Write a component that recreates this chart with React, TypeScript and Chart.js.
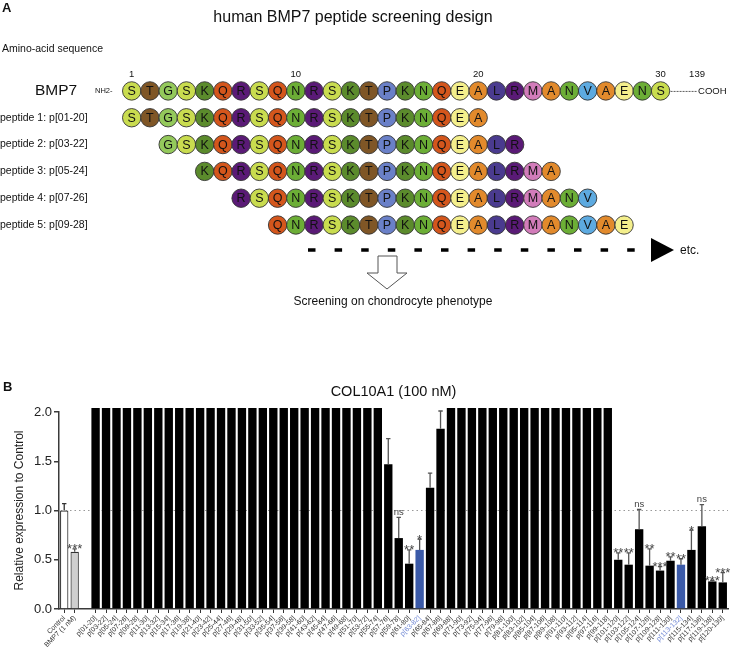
import React, { useEffect, useRef } from 'react';
import { Chart, registerables } from 'chart.js';

Chart.register(...registerables);

const FONT = '"Liberation Sans", Arial, Helvetica, sans-serif';

// ---------- Panel A data ----------
const TITLE_A = 'human BMP7 peptide screening design';
const SEQUENCE = ['S', 'T', 'G', 'S', 'K', 'Q', 'R', 'S', 'Q', 'N', 'R', 'S', 'K', 'T', 'P', 'K', 'N', 'Q', 'E', 'A', 'L', 'R', 'M', 'A', 'N', 'V', 'A', 'E', 'N', 'S'];
const POSITION_MARKS = [1, 10, 20, 30];
const FULL_LENGTH = 139;
const PEPTIDE_STARTS = [1, 3, 5, 7, 9];
const PEPTIDE_LENGTH = 20;
const PEPTIDE_LABELS = ['peptide 1: p[01-20]', 'peptide 2: p[03-22]', 'peptide 3: p[05-24]', 'peptide 4: p[07-26]', 'peptide 5: p[09-28]'];

const AA_COLORS: Record<string, string> = {
  S: '#c9dc4f', T: '#7f5626', G: '#94c95b', K: '#5b8b2c', Q: '#d4561c', R: '#5a1a76',
  N: '#6cae36', P: '#6a80c8', E: '#f4ef8c', A: '#e28a2c', L: '#4a3b8f', M: '#d27cba', V: '#5daae0',
};

// ---------- Panel B data ----------
const TITLE_B = 'COL10A1 (100 nM)';
const Y_TITLE = 'Relative expression to Control';
const CONTROL_LABELS = ['Control', 'BMP7 (1 nM)'];
const CONTROL_VALUES = [1.0, 0.58];
const CONTROL_ERRORS = [0.07, 0.03];
const CONTROL_SIGNIF = ['', '***'];

const PEPTIDE_NAMES = [
  'p[01-20]', 'p[03-22]', 'p[05-24]', 'p[07-26]', 'p[09-28]', 'p[11-30]', 'p[13-32]', 'p[15-34]', 'p[17-36]', 'p[19-38]',
  'p[21-40]', 'p[23-42]', 'p[25-44]', 'p[27-46]', 'p[29-48]', 'p[31-50]', 'p[33-52]', 'p[35-54]', 'p[37-56]', 'p[39-58]',
  'p[41-60]', 'p[43-62]', 'p[45-64]', 'p[47-66]', 'p[49-68]', 'p[51-70]', 'p[53-72]', 'p[55-74]', 'p[57-76]', 'p[59-78]',
  'p[61-80]', 'p[63-82]', 'p[65-84]', 'p[67-86]', 'p[69-88]', 'p[71-90]', 'p[73-92]', 'p[75-94]', 'p[77-96]', 'p[79-98]',
  'p[81-100]', 'p[83-102]', 'p[85-104]', 'p[87-106]', 'p[89-108]', 'p[91-110]', 'p[93-112]', 'p[95-114]', 'p[97-116]', 'p[99-118]',
  'p[101-120]', 'p[103-122]', 'p[105-124]', 'p[107-126]', 'p[109-128]', 'p[111-130]', 'p[113-132]', 'p[115-134]', 'p[117-136]', 'p[119-138]',
  'p[120-139]',
];
// values above 2.0 are off-scale (clipped at the top of the axis)
const PEPTIDE_VALUES = [
  2.5, 2.5, 2.5, 2.5, 2.5, 2.5, 2.5, 2.5, 2.5, 2.5,
  2.5, 2.5, 2.5, 2.5, 2.5, 2.5, 2.5, 2.5, 2.5, 2.5,
  2.5, 2.5, 2.5, 2.5, 2.5, 2.5, 2.5, 2.5, 1.47, 0.72,
  0.46, 0.60, 1.23, 1.83, 2.5, 2.5, 2.5, 2.5, 2.5, 2.5,
  2.5, 2.5, 2.5, 2.5, 2.5, 2.5, 2.5, 2.5, 2.5, 2.5,
  0.50, 0.45, 0.81, 0.44, 0.39, 0.49, 0.45, 0.60, 0.84, 0.28,
  0.27,
];
const PEPTIDE_ERRORS = [
  null, null, null, null, null, null, null, null, null, null,
  null, null, null, null, null, null, null, null, null, null,
  null, null, null, null, null, null, null, null, 0.26, 0.21,
  0.14, 0.11, 0.15, 0.18, null, null, null, null, null, null,
  null, null, null, null, null, null, null, null, null, null,
  0.07, 0.12, 0.20, 0.17, 0.04, 0.04, 0.06, 0.20, 0.22, 0.01,
  0.10,
];
const PEPTIDE_SIGNIF = [
  '', '', '', '', '', '', '', '', '', '',
  '', '', '', '', '', '', '', '', '', '',
  '', '', '', '', '', '', '', '', '', 'ns',
  '**', '*', '', '', '', '', '', '', '', '',
  '', '', '', '', '', '', '', '', '', '',
  '**', '**', 'ns', '**', '***', '**', '**', '*', 'ns', '***',
  '***',
];
const HIGHLIGHTED = ['p[63-82]', 'p[113-132]'];
const Y_TICKS = [0, 0.5, 1.0, 1.5, 2.0];
const REFERENCE_LEVEL = 1.0;

// combined (with an empty spacer category between controls and peptides)
const LABELS = [...CONTROL_LABELS, '', ...PEPTIDE_NAMES];
const VALUES: (number | null)[] = [...CONTROL_VALUES, null, ...PEPTIDE_VALUES];
const ERRORS: (number | null)[] = [...CONTROL_ERRORS, null, ...PEPTIDE_ERRORS];
const SIGNIF: string[] = [...CONTROL_SIGNIF, '', ...PEPTIDE_SIGNIF];

const BLUE = '#3b5aa8';
const BLUE_LABEL = '#7088d4';

function barFill(label: string, i: number) {
  if (i === 0) return '#ffffff';
  if (i === 1) return '#cfcfcf';
  if (HIGHLIGHTED.includes(label)) return BLUE;
  return '#000000';
}

export default function App() {
  const refA = useRef<HTMLCanvasElement>(null);
  const refB = useRef<HTMLCanvasElement>(null);

  useEffect(() => {
    // ---------- Panel A ----------
    const pts: { x: number; y: number }[] = [];
    SEQUENCE.forEach((_, i) => pts.push({ x: i + 1, y: 0 }));
    PEPTIDE_STARTS.forEach((s, k) => {
      for (let r = s; r < s + PEPTIDE_LENGTH; r++) pts.push({ x: r, y: k + 1 });
    });

    const panelAPlugin = {
      id: 'panelA',
      afterDatasetsDraw(chart: any) {
        const ctx = chart.ctx as CanvasRenderingContext2D;
        const xs = chart.scales.x;
        const ys = chart.scales.y;
        const meta = chart.getDatasetMeta(0);
        ctx.save();
        ctx.fillStyle = '#111';
        ctx.textAlign = 'center';
        ctx.textBaseline = 'middle';
        ctx.font = `12.5px ${FONT}`;
        meta.data.forEach((el: any, i: number) => {
          ctx.fillText(SEQUENCE[pts[i].x - 1], el.x, el.y + 0.5);
        });
        // title
        ctx.font = `16px ${FONT}`;
        ctx.fillText(TITLE_A, 353, 18);
        // panel letter
        ctx.textAlign = 'left';
        ctx.font = `bold 13px ${FONT}`;
        ctx.fillText('A', 2, 8);
        ctx.font = `10.5px ${FONT}`;
        ctx.fillText('Amino-acid sequence', 2, 49);
        const y0 = ys.getPixelForValue(0);
        ctx.font = `15.5px ${FONT}`;
        ctx.fillText('BMP7', 35, y0);
        ctx.font = `7.5px ${FONT}`;
        ctx.fillText('NH2-', 95, y0);
        ctx.font = `10.5px ${FONT}`;
        PEPTIDE_LABELS.forEach((l, k) => ctx.fillText(l, 0, ys.getPixelForValue(k + 1)));
        // position numbers
        ctx.textAlign = 'center';
        ctx.font = `9.5px ${FONT}`;
        POSITION_MARKS.forEach((n) => ctx.fillText(String(n), xs.getPixelForValue(n), y0 - 17));
        ctx.fillText(String(FULL_LENGTH), xs.getPixelForValue(SEQUENCE.length + 2), y0 - 17);
        // dashed tail to COOH
        const tailStart = xs.getPixelForValue(SEQUENCE.length) + 10;
        const tailEnd = xs.getPixelForValue(SEQUENCE.length + 2);
        ctx.strokeStyle = '#333';
        ctx.lineWidth = 0.8;
        ctx.setLineDash([2, 1]);
        ctx.beginPath();
        ctx.moveTo(tailStart, y0 + 0.5);
        ctx.lineTo(tailEnd, y0 + 0.5);
        ctx.stroke();
        ctx.setLineDash([]);
        ctx.textAlign = 'left';
        ctx.fillText('COOH', tailEnd + 1, y0);
        // dashed "etc." arrow
        const yArrow = ys.getPixelForValue(PEPTIDE_STARTS.length) + 25;
        ctx.strokeStyle = '#000';
        ctx.lineWidth = 3.5;
        ctx.setLineDash([7.5, 19.1]);
        ctx.beginPath();
        ctx.moveTo(308, yArrow);
        ctx.lineTo(640, yArrow);
        ctx.stroke();
        ctx.setLineDash([]);
        ctx.fillStyle = '#000';
        ctx.beginPath();
        ctx.moveTo(651, yArrow - 12);
        ctx.lineTo(674, yArrow);
        ctx.lineTo(651, yArrow + 12);
        ctx.closePath();
        ctx.fill();
        ctx.fillStyle = '#111';
        ctx.font = `12px ${FONT}`;
        ctx.textBaseline = 'middle';
        ctx.fillText('etc.', 680, yArrow + 0.5);
        // hollow down arrow
        ctx.fillStyle = '#fff';
        ctx.strokeStyle = '#555';
        ctx.lineWidth = 1;
        ctx.beginPath();
        ctx.moveTo(378, 256);
        ctx.lineTo(397, 256);
        ctx.lineTo(397, 273);
        ctx.lineTo(407, 273);
        ctx.lineTo(387, 289);
        ctx.lineTo(367, 273);
        ctx.lineTo(378, 273);
        ctx.closePath();
        ctx.fill();
        ctx.stroke();
        ctx.fillStyle = '#111';
        ctx.textAlign = 'center';
        ctx.font = `12px ${FONT}`;
        ctx.fillText('Screening on chondrocyte phenotype', 393, 302);
        ctx.restore();
      },
    };

    const chartA = new Chart(refA.current!, {
      type: 'scatter',
      data: {
        datasets: [
          {
            data: pts,
            pointRadius: 9.2,
            pointHoverRadius: 9.2,
            pointBackgroundColor: pts.map((p) => AA_COLORS[SEQUENCE[p.x - 1]]),
            pointBorderColor: '#333',
            pointBorderWidth: 0.9,
          },
        ],
      },
      options: {
        responsive: false,
        animation: false,
        devicePixelRatio: 1,
        events: [],
        layout: { padding: 0 },
        scales: {
          x: { type: 'linear', display: false, min: -5.667, max: 33.693 },
          y: { type: 'linear', display: false, reverse: true, min: -3.014, max: 8.538 },
        },
        plugins: { legend: { display: false }, tooltip: { enabled: false } },
      },
      plugins: [panelAPlugin],
    } as any);

    // ---------- Panel B ----------
    const panelBPlugin = {
      id: 'panelB',
      beforeDatasetsDraw(chart: any) {
        const ctx = chart.ctx as CanvasRenderingContext2D;
        const { left, right } = chart.chartArea;
        const y = chart.scales.y.getPixelForValue(REFERENCE_LEVEL);
        ctx.save();
        ctx.strokeStyle = '#999';
        ctx.lineWidth = 1;
        ctx.setLineDash([1.5, 3]);
        ctx.beginPath();
        ctx.moveTo(left + 2, y);
        ctx.lineTo(right, y);
        ctx.stroke();
        ctx.restore();
      },
      afterDatasetsDraw(chart: any) {
        const ctx = chart.ctx as CanvasRenderingContext2D;
        const ys = chart.scales.y;
        const meta = chart.getDatasetMeta(0);
        ctx.save();
        VALUES.forEach((v, i) => {
          if (v == null) return;
          const x = meta.data[i].x;
          let top = ys.getPixelForValue(v);
          const e = ERRORS[i];
          if (e) {
            const yE = ys.getPixelForValue(v + e);
            ctx.strokeStyle = i === 0 ? '#333' : '#555';
            ctx.lineWidth = 1.3;
            ctx.beginPath();
            ctx.moveTo(x, top);
            ctx.lineTo(x, yE);
            ctx.moveTo(x - 2.2, yE);
            ctx.lineTo(x + 2.2, yE);
            ctx.stroke();
            top = yE;
          }
          const s = SIGNIF[i];
          if (s) {
            ctx.fillStyle = '#444';
            ctx.textAlign = 'center';
            if (s === 'ns') {
              ctx.font = `9.5px ${FONT}`;
              ctx.textBaseline = 'bottom';
              ctx.fillText(s, x, top - 0.5);
            } else {
              ctx.font = `13px ${FONT}`;
              ctx.textBaseline = 'alphabetic';
              ctx.fillText(s, x, top + 4.5);
            }
          }
        });
        ctx.restore();
      },
      afterDraw(chart: any) {
        const ctx = chart.ctx as CanvasRenderingContext2D;
        const { left, right } = chart.chartArea;
        ctx.save();
        ctx.fillStyle = '#111';
        ctx.textAlign = 'center';
        ctx.textBaseline = 'middle';
        ctx.font = `14.5px ${FONT}`;
        ctx.fillText(TITLE_B, (left + right) / 2, 17);
        ctx.textAlign = 'left';
        ctx.font = `bold 13px ${FONT}`;
        ctx.fillText('B', 3, 12);
        ctx.restore();
      },
    };

    const chartB = new Chart(refB.current!, {
      type: 'bar',
      data: {
        labels: LABELS,
        datasets: [
          {
            data: VALUES,
            backgroundColor: LABELS.map((l, i) => barFill(l, i)),
            borderColor: LABELS.map((_, i) => (i < 2 ? '#333' : 'rgba(0,0,0,0)')),
            borderWidth: LABELS.map((_, i) => (i < 2 ? 1.2 : 0)),
            barPercentage: 0.8,
            categoryPercentage: 1.0,
            clip: { left: 5, top: 4, right: 5, bottom: 5 },
          },
        ],
      },
      options: {
        responsive: false,
        animation: false,
        devicePixelRatio: 1,
        events: [],
        layout: { padding: { top: 37, right: 10, left: 0, bottom: 0 } },
        scales: {
          x: {
            grid: {
              offset: false,
              drawOnChartArea: false,
              drawTicks: true,
              tickLength: 4,
              lineWidth: 1,
              color: (c: any) => (LABELS[c.index] === '' ? 'rgba(0,0,0,0)' : '#333'),
            },
            border: { color: '#3a3a3a', width: 1.5 },
            ticks: {
              autoSkip: false,
              maxRotation: 45,
              minRotation: 45,
              padding: 1,
              font: { family: FONT, size: 7 },
              color: (c: any) => (HIGHLIGHTED.includes(LABELS[c.index]) ? BLUE_LABEL : '#333'),
            },
            afterFit: (s: any) => {
              s.height = 45;
            },
          },
          y: {
            min: 0,
            max: 2,
            afterBuildTicks: (s: any) => {
              s.ticks = Y_TICKS.map((v) => ({ value: v }));
            },
            ticks: {
              callback: (v: any) => Number(v).toFixed(1),
              font: { family: FONT, size: 13 },
              color: '#222',
              padding: 2,
            },
            grid: { drawOnChartArea: false, tickLength: 5, color: '#3a3a3a', lineWidth: 1.5 },
            border: { color: '#3a3a3a', width: 1.5 },
            title: {
              display: true,
              text: Y_TITLE,
              font: { family: FONT, size: 12 },
              color: '#222',
              padding: { top: 12, bottom: 0 },
            },
            afterFit: (s: any) => {
              s.width = 59;
            },
          },
        },
        plugins: { legend: { display: false }, tooltip: { enabled: false } },
      },
      plugins: [panelBPlugin],
    } as any);

    return () => {
      chartA.destroy();
      chartB.destroy();
    };
  }, []);

  return (
    <div style={{ position: 'fixed', left: 0, top: 0, width: 738, height: 654, background: '#fff', overflow: 'hidden' }}>
      <canvas ref={refA} width={738} height={330} style={{ position: 'absolute', left: 0, top: 0 }} />
      <canvas ref={refB} width={738} height={279} style={{ position: 'absolute', left: 0, top: 375 }} />
    </div>
  );
}
